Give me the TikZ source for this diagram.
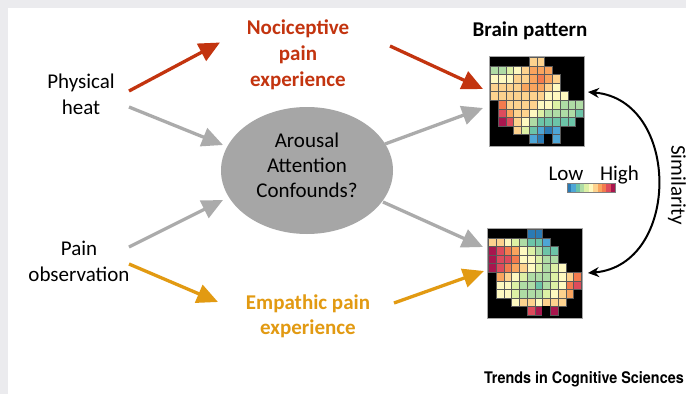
\documentclass[tikz,border=0pt]{standalone}
\usepackage{fontspec}
\setmainfont{Carlito}
\newfontfamily\tcsfont{TeX Gyre Heros}
\usetikzlibrary{arrows.meta,shapes.geometric}
\definecolor{bggray}{HTML}{EBEBEE}
\definecolor{nocired}{HTML}{C3340F}
\definecolor{empor}{HTML}{E29A12}
\definecolor{arrgray}{HTML}{ABABAB}
\definecolor{ellgray}{HTML}{A6A6A6}
\definecolor{cellgrid}{HTML}{5A5A5A}
\definecolor{ca}{HTML}{2B7BB5}
\definecolor{cb}{HTML}{4EA6D6}
\definecolor{cc}{HTML}{6CC4A8}
\definecolor{cd}{HTML}{AFDCA5}
\definecolor{ce}{HTML}{DDF0A5}
\definecolor{cf}{HTML}{FEF9C0}
\definecolor{cg}{HTML}{FDD28E}
\definecolor{ch}{HTML}{F9A45E}
\definecolor{ci}{HTML}{F37B4E}
\definecolor{cj}{HTML}{DD4B5C}
\definecolor{ck}{HTML}{A8164E}
\definecolor{cx}{HTML}{000000}
\colorlet{ba}{cellgrid}\colorlet{bb}{cellgrid}\colorlet{bc}{cellgrid}
\colorlet{bd}{cellgrid}\colorlet{be}{cellgrid}\colorlet{bf}{cellgrid}
\colorlet{bg}{cellgrid}\colorlet{bh}{cellgrid}\colorlet{bi}{cellgrid}
\colorlet{bj}{cellgrid}\colorlet{bk}{cellgrid}\colorlet{bx}{black}
\newcommand{\drawbrain}[3]{%
  \foreach \rr/\cs/\lst in {#3} {
    \foreach \cq [count=\ci from \cs] in \lst {
      \path[fill=c\cq, draw=b\cq, line width=0.6pt]
        ({#1+\ci*7.75},{#2+\rr*8.6}) rectangle ++(7.75,8.6);
    }
  }}
\begin{document}
\begin{tikzpicture}[x=1pt,y=-1pt,
  lbl/.style={font=\fontsize{21}{25.7}\selectfont, align=center, inner sep=0pt, anchor=base},
  boldlbl/.style={lbl, font=\fontsize{21}{25.7}\selectfont\bfseries},
  conn/.style={line width=3.3pt, -{Triangle[length=21pt,width=19pt]}},
  brainbox/.style={fill=black, draw=gray!70, line width=0.8pt, anchor=north west,
    inner sep=0pt, minimum width=94.5pt, minimum height=89.5pt}]
\useasboundingbox (0,0) rectangle (686,394);
\fill[white] (0,0) rectangle (686,394);
\fill[bggray] (0,0) rectangle (686,7.5);
\fill[bggray] (0,0) rectangle (7.5,394);

% text nodes (anchor base = baseline of the last line)
\node[lbl, font=\fontsize{21}{26}\selectfont] (phys) at (81,114) {Physical\\heat};
\node[lbl, font=\fontsize{21}{26}\selectfont] (obs) at (79,281.5) {Pain\\observation};
\node[boldlbl, text=nocired] (noci) at (298,86) {Nociceptive\\pain\\experience};
\node[boldlbl, text=empor] (emp) at (308,334.7) {Empathic pain\\experience};
\node[fill=ellgray, ellipse, minimum width=172pt, minimum height=127pt, inner sep=0pt] (conf) at (307,170.5) {};
\node[lbl, font=\fontsize{21}{25.2}\selectfont] (conftext) at (307,197.9) {Arousal\\Attention\\Confounds?};
\node[boldlbl] (bp) at (530,36.5) {Brain pattern};
\node[lbl] (low) at (566,180) {Low};
\node[lbl] (high) at (619.5,180) {High};
\node[lbl, rotate=-90, anchor=center] (sim) at (677,185) {Similarity};
\node[inner sep=0pt, anchor=base east] (tcs) at (684,383.5)
  {\scalebox{0.9}[1]{\tcsfont\bfseries\fontsize{16}{18}\selectfont Trends in Cognitive Sciences}};

% brain patterns
\node[brainbox] (braintop) at (489,56) {};
\drawbrain{490.3}{57.3}{0/5/{g,g}, 1/0/{d,d,e,f,g,h,h,h}, 2/0/{f,f,f,g,g,h,i,h,g},
  3/0/{g,g,g,g,h,h,h,g,f}, 4/0/{g,g,g,g,g,g,g,f,f,f}, 5/1/{i,g,g,g,g,f,f,e,d,d,d},
  6/1/{j,h,g,g,f,e,d,d,d,d,c}, 7/1/{k,j,g,f,d,c,c,c,c,c}, 8/3/{g,e,c,b,a,b}, 9/5/{b,a,x,b}}
\node[brainbox] (brainbot) at (487,228) {};
\drawbrain{488.3}{229.3}{0/5/{a,a}, 1/0/{g,g,f,e,d,c,c,b}, 2/0/{k,j,i,h,f,e,d,c,c},
  3/0/{k,j,j,i,f,f,e,d,d}, 4/0/{k,j,i,h,g,f,e,d,e,f}, 5/1/{h,g,f,e,d,d,d,e,f,g,i},
  6/1/{f,f,e,d,d,c,d,e,f,i,j}, 7/1/{f,f,e,d,d,d,e,f,g,h}, 8/3/{f,g,g,f,g,g,g}, 9/5/{j,k,x,k}}

% colour bar
\foreach \cq [count=\ci from 0] in {a,b,c,d,e,f,g,h,i,j,k}
  \fill[c\cq] ({567+\ci*48/11},183) rectangle ++({48/11+0.3},9);
\draw[gray, line width=0.5pt] (567,183) rectangle (615,192);

% connector end points
\coordinate (p1) at (129,91);   \coordinate (n1) at (220,42.5);
\coordinate (p2) at (129,107);  \coordinate (c1) at (223,145);
\coordinate (o1) at (129,247);  \coordinate (c2) at (223,200);
\coordinate (o2) at (129,264);  \coordinate (e1) at (218,302);
\coordinate (n2) at (390,46);   \coordinate (t1) at (483,89);
\coordinate (c3) at (385,144);  \coordinate (t2) at (483,108);
\coordinate (c4) at (383,202);  \coordinate (b1) at (483,247);
\coordinate (e2) at (394,303);  \coordinate (b2) at (484,271);
\coordinate (simtop) at (588,92); \coordinate (simbot) at (588,273);

\draw[conn, nocired] (p1) -- (n1);
\draw[conn, nocired] (n2) -- (t1);
\draw[conn, arrgray] (p2) -- (c1);
\draw[conn, arrgray] (o1) -- (c2);
\draw[conn, arrgray] (c3) -- (t2);
\draw[conn, arrgray] (c4) -- (b1);
\draw[conn, empor] (o2) -- (e1);
\draw[conn, empor] (e2) -- (b2);
\draw[line width=2pt, {Stealth[length=11pt,width=10pt]}-{Stealth[length=11pt,width=10pt]}]
  (simtop) .. controls (681,100) and (681,265) .. (simbot);
\end{tikzpicture}
\end{document}
